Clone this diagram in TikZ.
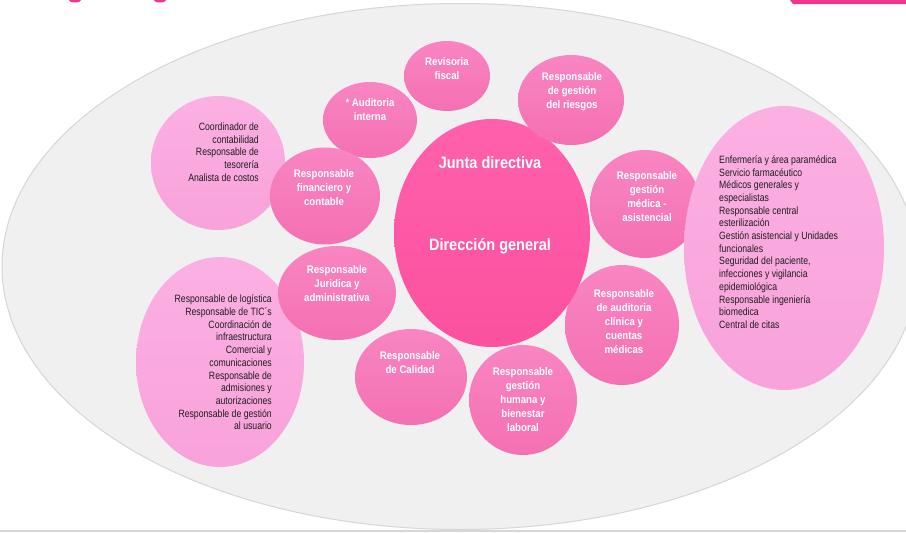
\documentclass[tikz,border=0pt]{standalone}
\usepackage{fontspec}
\setmainfont{Liberation Sans}
\newfontfamily\nbfont[FakeStretch=0.88]{Liberation Sans}
\newfontfamily\nrfont[FakeStretch=0.82]{Liberation Sans}
\usetikzlibrary{shapes.geometric}
\definecolor{bggray}{HTML}{F0F0F0}
\definecolor{bgedge}{HTML}{D6D6D6}
\definecolor{midA}{HTML}{F985C2}
\definecolor{midB}{HTML}{F470B3}
\definecolor{cenA}{HTML}{FF60AC}
\definecolor{cenB}{HTML}{FB519F}
\definecolor{liteA}{HTML}{FBB0E3}
\definecolor{liteB}{HTML}{F9A2DB}
\definecolor{txtdark}{HTML}{1E1E1E}
\definecolor{hotpink}{HTML}{F0358E}
\tikzset{
  bub/.style={ellipse, draw=none, inner sep=0pt, top color=midA, bottom color=midB},
  cenbub/.style={ellipse, draw=none, inner sep=0pt, top color=cenA, bottom color=cenB},
  litebub/.style={ellipse, draw=none, inner sep=0pt, top color=liteA, bottom color=liteB},
  wtext/.style={text=white, align=center, inner sep=0pt,
    font=\nbfont\bfseries\fontsize{11}{14}\selectfont},
  bigtext/.style={text=white, align=center, inner sep=0pt,
    font=\nbfont\bfseries\fontsize{16.5}{19}\selectfont},
  dtext/.style={text=txtdark, inner sep=0pt,
    font=\nrfont\fontsize{10.6}{12.7}\selectfont},
}
\begin{document}
\begin{tikzpicture}[x=1pt, y=-1pt]
\useasboundingbox (0,0) rectangle (906,533);
\fill[white] (0,0) rectangle (906,533);
% cut-off title fragments and bottom rule
\fill[hotpink] (790,0) -- (906,0) -- (906,4) -- (793,4) -- cycle;
\fill[hotpink] (75,0) ellipse (6 and 2.5);
\fill[hotpink] (160,0) ellipse (6 and 2.5);
\draw[bgedge, line width=1.2pt] (0,531) -- (906,531);
% background ellipse
\node[ellipse, draw=bgedge, fill=bggray, line width=1pt, inner sep=0pt,
      minimum width=916pt, minimum height=526pt] (bg) at (460,266.5) {};
% light pink groups (left)
\node[litebub, minimum width=134pt, minimum height=134pt] (coord) at (218,163) {};
\node[litebub, minimum width=168pt, minimum height=210pt] (logis) at (220,362) {};
% medium circles
\node[bub, minimum width=86pt, minimum height=70pt] (rev) at (447,76) {};
\node[bub, minimum width=94pt, minimum height=76pt] (aud) at (370,120) {};
\node[bub, minimum width=110pt, minimum height=97pt] (fin) at (325,196) {};
\node[bub, minimum width=118pt, minimum height=94pt] (jur) at (337,293) {};
\node[bub, minimum width=112pt, minimum height=96pt] (cal) at (411,377) {};
\node[bub, minimum width=108pt, minimum height=110pt] (hum) at (523,400) {};
\node[bub, minimum width=114pt, minimum height=120pt] (cli) at (622,325) {};
\node[bub, minimum width=110pt, minimum height=108pt] (med) at (645,204) {};
% central circle
\node[cenbub, minimum width=196pt, minimum height=228pt] (dir) at (492,233) {};
\node[bub, minimum width=106pt, minimum height=90pt] (rie) at (571,100) {};
% right light group
\node[litebub, minimum width=200pt, minimum height=284pt] (asis) at (784,248) {};
% texts in medium circles
\node[wtext] (trev) at (447,69) {Revisoria\\fiscal};
\node[wtext] (taud) at (370,110) {* Auditoria\\interna};
\node[wtext] (trie) at (572,92) {Responsable\\de gestión\\del riesgos};
\node[wtext] (tfin) at (324,188) {Responsable\\financiero y\\contable};
\node[wtext] (tmed) at (647,197) {Responsable\\gestión\\médica -\\asistencial};
\node[wtext] (tjur) at (337,284) {Responsable\\Juridica y\\administrativa};
\node[wtext] (tcal) at (410,363) {Responsable\\de Calidad};
\node[wtext] (thum) at (523,400) {Responsable\\gestión\\humana y\\bienestar\\laboral};
\node[wtext] (tcli) at (624,322) {Responsable\\de auditoria\\clínica y\\cuentas\\médicas};
% central texts
\node[bigtext] (tjun) at (490,163) {Junta directiva};
\node[bigtext] (tdir) at (490,246) {Dirección general};
% dark texts in light groups
\node[dtext, align=right, anchor=east] (tcoord) at (259,152) {Coordinador de\\contabilidad\\Responsable de\\tesorería\\Analista de costos};
\node[dtext, align=right, anchor=east] (tlogis) at (272,362.5) {Responsable de logística\\Responsable de TIC´s\\Coordinación de\\infraestructura\\Comercial y\\comunicaciones\\Responsable de\\admisiones y\\autorizaciones\\Responsable de gestión\\al usuario};
\node[dtext, align=left, anchor=west] (tasis) at (719,242) {Enfermería y área paramédica\\Servicio farmacéutico\\Médicos generales y\\especialistas\\Responsable central\\esterilización\\Gestión asistencial y Unidades\\funcionales\\Seguridad del paciente,\\infecciones y vigilancia\\epidemiológica\\Responsable ingeniería\\biomedica\\Central de citas};
\end{tikzpicture}
\end{document}
